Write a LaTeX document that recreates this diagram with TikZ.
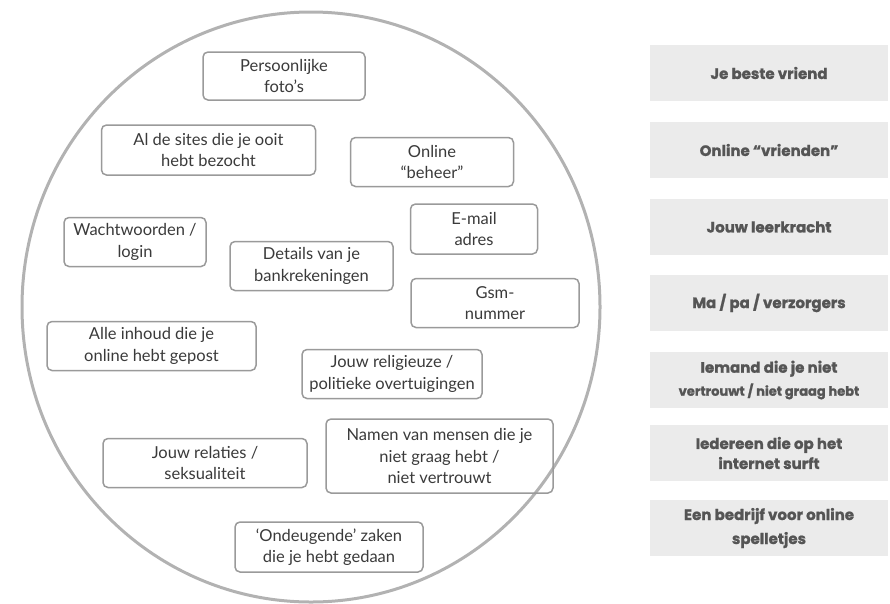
\documentclass[tikz,border=0pt]{standalone}
\usepackage{fontspec}
\setmainfont{Lato}
\newfontfamily\tabfont[BoldFeatures={FakeBold=1.2}]{Poppins}
\definecolor{ringgray}{HTML}{B2B2B2}
\definecolor{boxgray}{HTML}{9A9A9A}
\definecolor{textgray}{HTML}{3A3A3A}
\definecolor{tabfill}{HTML}{EBEBEB}
\definecolor{tabtext}{HTML}{555555}
\begin{document}
\begin{tikzpicture}[x=1pt,y=-1pt,
	info/.style={draw=boxgray,line width=1.5pt,rounded corners=5pt,align=center,inner sep=0pt,text=textgray,font=\fontsize{16.5}{21.5}\selectfont},
	person/.style={fill=tabfill,minimum width=238pt,minimum height=56pt,inner sep=0pt,align=center,text=tabtext,font=\tabfont\bfseries\fontsize{15}{20}\selectfont}]
		\useasboundingbox (0,0) rectangle (890,603);
		% de cirkel met persoonlijke gegevens
		\draw[ringgray,line width=3pt] (311,307) ellipse (289pt and 295pt);
		\node[info,minimum width=162pt,minimum height=48pt] (fotos) at (284,76) {Persoonlijke\\foto’s};
		\node[info,minimum width=214pt,minimum height=50pt] (sites) at (208.5,150) {Al de sites die je ooit\\hebt bezocht};
		\node[info,minimum width=163pt,minimum height=49pt] (beheer) at (432,162) {Online\\“beheer”};
		\node[info,minimum width=142pt,minimum height=49pt] (login) at (135,242) {Wachtwoorden /\\login};
		\node[info,minimum width=163pt,minimum height=49pt] (bank) at (311.5,266) {Details van je\\bankrekeningen};
		\node[info,minimum width=127pt,minimum height=50pt] (email) at (474,229) {E-mail\\adres};
		\node[info,minimum width=168pt,minimum height=49pt] (gsm) at (495,303) {Gsm-\\nummer};
		\node[info,minimum width=209pt,minimum height=49pt] (gepost) at (151.5,346) {Alle inhoud die je\\online hebt gepost};
		\node[info,minimum width=180pt,minimum height=49pt] (overtuiging) at (392,374) {Jouw religieuze /\\politieke overtuigingen};
		\node[info,minimum width=204pt,minimum height=49pt] (relaties) at (205,463) {Jouw relaties /\\seksualiteit};
		\node[info,minimum width=227pt,minimum height=74pt] (namen) at (439.5,456) {Namen van mensen die je\\niet graag hebt /\\niet vertrouwt};
		\node[info,minimum width=188pt,minimum height=50pt] (ondeugend) at (329,547) {‘Ondeugende’ zaken\\die je hebt gedaan};
		% de personen rechts
		\node[person] (vriend) at (769,73) {Je beste vriend};
		\node[person] (online) at (769,150) {Online “vrienden”};
		\node[person] (leerkracht) at (769,227) {Jouw leerkracht};
		\node[person] (ouders) at (769,303) {Ma / pa / verzorgers};
		\node[person] (iemand) at (769,380) {Iemand die je niet\\[3pt]{\fontsize{13}{15}\selectfont vertrouwt / niet graag hebt}};
		\node[person] (iedereen) at (769,453) {Iedereen die op het\\internet surft};
		\node[person] (bedrijf) at (769,528) {Een bedrijf voor online\\[4pt]spelletjes};
\end{tikzpicture}
\end{document}
